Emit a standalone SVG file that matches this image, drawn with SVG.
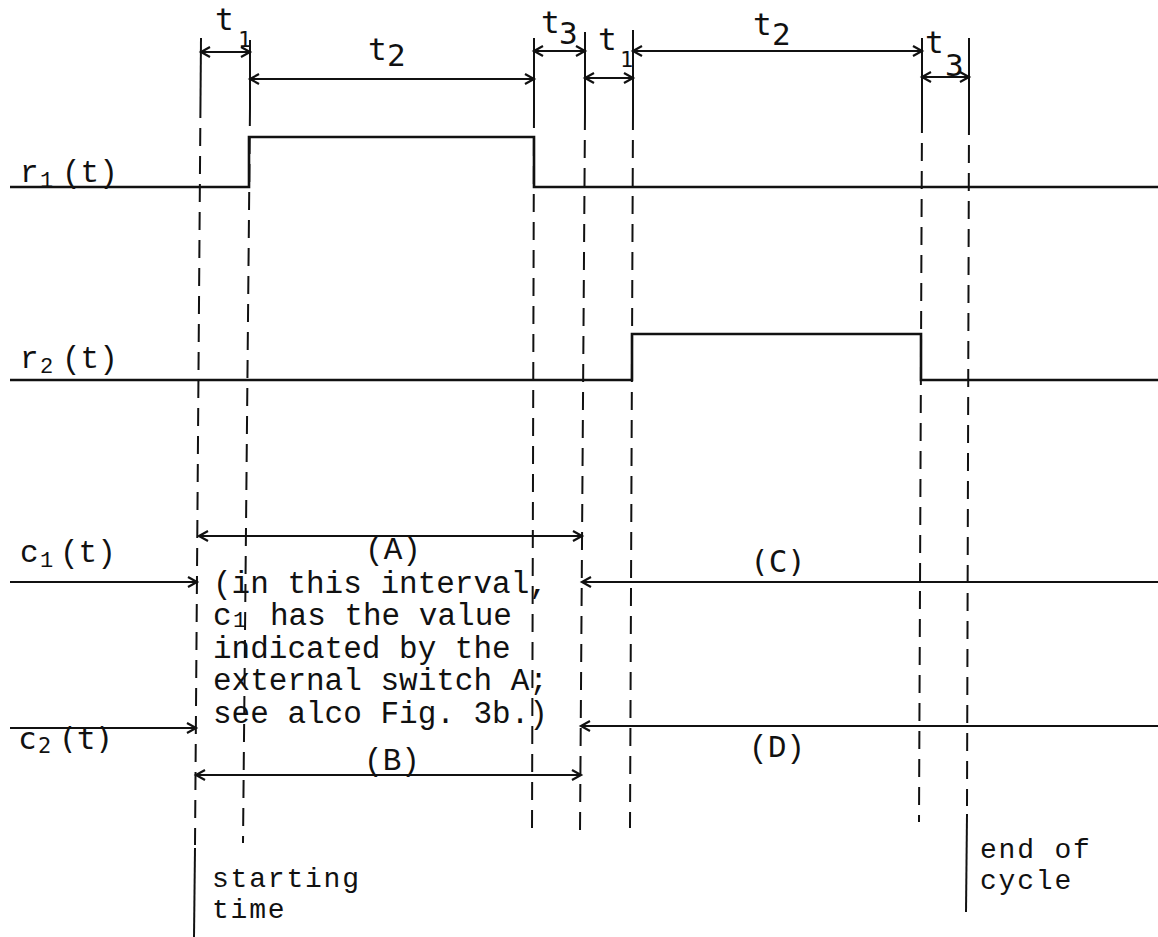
<svg xmlns="http://www.w3.org/2000/svg" width="1158" height="937" viewBox="0 0 1158 937">
<style>
.bg{fill:#fff}
.sig{fill:none;stroke:#111;stroke-width:2.6;stroke-linejoin:miter}
.solid{fill:none;stroke:#111;stroke-width:2}
.dash{fill:none;stroke:#111;stroke-width:2;stroke-dasharray:18 10}
.dim{fill:none;stroke:#111;stroke-width:2.2;marker-start:url(#ah);marker-end:url(#ah)}
.one{fill:none;stroke:#111;stroke-width:2.2;marker-end:url(#ah)}
.tw{font-family:"Liberation Mono","DejaVu Sans Mono",monospace;font-size:31px;fill:#111}
.tl{font-family:"DejaVu Sans Mono","Liberation Mono",monospace;font-size:31px;fill:#111}
.tb{font-family:"Liberation Mono","DejaVu Sans Mono",monospace;font-size:28px;letter-spacing:1.8px;fill:#111}
.sub{font-size:22px}
</style>
<defs>
<marker id="ah" markerUnits="userSpaceOnUse" markerWidth="24" markerHeight="24" viewBox="-12 -12 24 24" refX="0" refY="0" orient="auto-start-reverse">
<path d="M-9,-5 L0,0 L-9,5" fill="none" stroke="#111" stroke-width="2.2"/>
</marker>
</defs>
<rect class="bg" x="0" y="0" width="1158" height="937"/>

<g id="timelines">
<path class="solid" d="M201,38 L200.5,100"/>
<path class="dash" d="M200.5,100 L195,845"/>
<path class="solid" d="M195,848 L194,937"/>
<path class="solid" d="M250,40 L250,108"/>
<path class="dash" d="M250,108 L243,843"/>
<path class="solid" d="M534,38 L534,110"/>
<path class="dash" d="M534,110 L532,835"/>
<path class="solid" d="M585,32 L585,112"/>
<path class="dash" d="M585,112 L580,832"/>
<path class="solid" d="M633,30 L633,112"/>
<path class="dash" d="M633,112 L630,828"/>
<path class="solid" d="M922,38 L922,115"/>
<path class="dash" d="M922,115 L919,822"/>
<path class="solid" d="M969,38 L969,117"/>
<path class="dash" d="M969,117 L967,806"/>
<path class="solid" d="M967,814 L966,912"/>
</g>

<g id="signal-r1">
<path class="sig" d="M10,187 L249,187 L249,137 L534,137 L534,187 L1158,187"/>
<text class="tw" x="20" y="182">r<tspan class="sub" x="40" y="187">1</tspan><tspan x="62" y="182">(t)</tspan></text>
</g>
<g id="signal-r2">
<path class="sig" d="M10,380 L632,380 L632,334 L921,334 L921,380 L1158,380"/>
<text class="tw" x="20" y="368">r<tspan class="sub" x="40" y="373">2</tspan><tspan x="62" y="368">(t)</tspan></text>
</g>
<g id="label-c1">
<text class="tw" x="20" y="562">c<tspan class="sub" x="40" y="567">1</tspan><tspan x="60" y="562">(t)</tspan></text>
</g>
<g id="label-c2">
<text class="tl" x="18" y="749">c<tspan class="sub" x="38" y="753">2</tspan><tspan x="58" y="749">(t)</tspan></text>
</g>

<g id="connectors">
<path class="dim" d="M201,52 L250,52"/>
<path class="dim" d="M250,79 L534,79"/>
<path class="dim" d="M534,51 L585,51"/>
<path class="dim" d="M585,78 L633,78"/>
<path class="dim" d="M633,51 L922,51"/>
<path class="dim" d="M922,77 L969,77"/>
<path class="dim" d="M199,536 L582,536"/>
<path class="dim" d="M196,775 L581,775"/>
<path class="one" d="M10,582 L197,582"/>
<path class="one" d="M1158,582 L582,582"/>
<path class="one" d="M10,728 L196,728"/>
<path class="one" d="M1158,726 L581,726"/>
</g>

<g id="interval-labels">
<text class="tl" x="215" y="30">t</text><text class="tl sub" x="238" y="47">1</text>
<text class="tl" x="368" y="60">t</text><text class="tl" x="387" y="66">2</text>
<text class="tl" x="541" y="33">t</text><text class="tl" x="559" y="44">3</text>
<text class="tl" x="598" y="50">t</text><text class="tl sub" x="620" y="67">1</text>
<text class="tl" x="753" y="35">t</text><text class="tl" x="772" y="45">2</text>
<text class="tl" x="925" y="53">t</text><text class="tl" x="945" y="76">3</text>
</g>

<g id="interval-A">
<text class="tw" x="393" y="559" text-anchor="middle">(A)</text>
</g>
<g id="interval-B">
<text class="tw" x="392" y="770" text-anchor="middle">(B)</text>
</g>
<g id="interval-C">
<text class="tl" x="778" y="572" text-anchor="middle">(C)</text>
</g>
<g id="interval-D">
<text class="tw" x="777" y="757" text-anchor="middle">(D)</text>
</g>

<g id="note">
<text class="tw" x="213" y="593">(in this interval,</text>
<text class="tw" x="213" y="625">c<tspan class="sub" x="233" y="627">1</tspan><tspan x="270" y="625">has the value</tspan></text>
<text class="tw" x="213" y="658">indicated by the</text>
<text class="tw" x="213" y="690">external switch A;</text>
<text class="tw" x="213" y="723">see alco Fig. 3b.)</text>
</g>

<g id="start-label">
<text class="tb" x="212" y="887">starting</text>
<text class="tb" x="212" y="918">time</text>
</g>
<g id="end-label">
<text class="tb" x="980" y="858">end of</text>
<text class="tb" x="980" y="889">cycle</text>
</g>
</svg>
